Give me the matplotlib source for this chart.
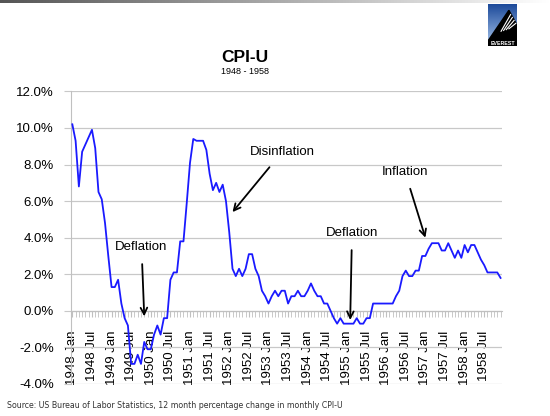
import matplotlib
matplotlib.use("Agg")
import matplotlib.pyplot as plt
import numpy as np
from matplotlib.patches import Rectangle, Polygon

plt.rcParams['font.family'] = ['Liberation Sans', 'DejaVu Sans']

years = list(range(1948, 1959))
month_names = ["Jan", "Feb", "Mar", "Apr", "May", "Jun", "Jul", "Aug", "Sep", "Oct", "Nov", "Dec"]
categories = [f"{y} {m}" for y in years for m in month_names]

cpi_yoy = [
    10.2, 9.3, 6.8, 8.7, 9.1, 9.5, 9.9, 8.9, 6.5, 6.1, 4.8, 3.0,      # 1948
    1.3, 1.3, 1.7, 0.4, -0.4, -0.8, -2.9, -2.9, -2.4, -2.9, -1.7, -2.1,  # 1949
    -2.1, -1.3, -0.8, -1.3, -0.4, -0.4, 1.7, 2.1, 2.1, 3.8, 3.8, 5.9,    # 1950
    8.1, 9.4, 9.3, 9.3, 9.3, 8.8, 7.5, 6.6, 7.0, 6.5, 6.9, 6.0,      # 1951
    4.3, 2.3, 1.9, 2.3, 1.9, 2.3, 3.1, 3.1, 2.3, 1.9, 1.1, 0.8,      # 1952
    0.4, 0.8, 1.1, 0.8, 1.1, 1.1, 0.4, 0.8, 0.8, 1.1, 0.8, 0.8,      # 1953
    1.1, 1.5, 1.1, 0.8, 0.8, 0.4, 0.4, 0.0, -0.4, -0.7, -0.4, -0.7,  # 1954
    -0.7, -0.7, -0.7, -0.4, -0.7, -0.7, -0.4, -0.4, 0.4, 0.4, 0.4, 0.4,  # 1955
    0.4, 0.4, 0.4, 0.8, 1.1, 1.9, 2.2, 1.9, 1.9, 2.2, 2.2, 3.0,      # 1956
    3.0, 3.4, 3.7, 3.7, 3.7, 3.3, 3.3, 3.7, 3.3, 2.9, 3.3, 2.9,      # 1957
    3.6, 3.2, 3.6, 3.6, 3.2, 2.8, 2.5, 2.1, 2.1, 2.1, 2.1, 1.8,      # 1958
]

tick_labels = [c for c in categories if c.endswith("Jan") or c.endswith("Jul")]
y_ticks = [-4, -2, 0, 2, 4, 6, 8, 10, 12]

annotations = [
    ("Deflation", "1949 Nov", -0.3, 141.5, 247),
    ("Disinflation", "1952 Feb", 5.4, 282, 152),
    ("Inflation", "1957 Jan", 4.0, 405, 172),
    ("Deflation", "1955 Feb", -0.5, 352, 233),
]

W, H = 550, 416
fig = plt.figure(figsize=(W / 100, H / 100), dpi=100)
fig.patch.set_facecolor("white")

ax = fig.add_axes([70.7 / W, 32 / H, 431.5 / W, 292.6 / H])
x = np.arange(len(categories))
ax.plot(x, cpi_yoy, color="#1a1aff", lw=1.3, zorder=3)

ax.set_xlim(-0.5, len(categories) - 0.5)
ax.set_ylim(-4, 12)
ax.set_yticks(y_ticks)
ax.set_yticklabels([f"{v:.1f}%" for v in y_ticks], fontsize=9.5)
ax.yaxis.grid(True, color="#c8c8c8", lw=0.9)
ax.set_axisbelow(True)

ax.spines['top'].set_visible(False)
ax.spines['right'].set_visible(False)
ax.spines['left'].set_color("#c0c0c0")
ax.spines['bottom'].set_position(('data', 0))
ax.spines['bottom'].set_color("#c0c0c0")

ax.set_xticks(x, minor=True)
tick_pos = [categories.index(t) for t in tick_labels]
ax.set_xticks(tick_pos)
ax.set_xticklabels(tick_labels, rotation=90, fontsize=9.5, va="top", ha="center")
ax.tick_params(axis='x', which='both', length=4, color="#c0c0c0", pad=10)
ax.tick_params(axis='y', length=5, color="#c8c8c8", pad=7)

for text, cat, yv, tx, ty in annotations:
    xi = categories.index(cat)
    fx, fy = tx / W, 1 - ty / H
    ax.annotate(text, xy=(xi, yv), xycoords="data",
                xytext=(fx, fy), textcoords="figure fraction",
                ha="center", va="center", fontsize=9.5,
                arrowprops=dict(arrowstyle="->,head_length=0.5,head_width=0.25",
                                color="black", lw=1.3, shrinkA=6, shrinkB=0))

fig.text(245 / W, 1 - 57 / H, "CPI-U", ha="center", va="center", fontsize=12.5, fontweight="bold")
fig.text(245 / W, 1 - 72 / H, "1948 - 1958", ha="center", va="center", fontsize=6.5)
fig.text(7 / W, 1 - 405 / H, "Source: US Bureau of Labor Statistics, 12 month percentage change in monthly CPI-U",
         ha="left", va="center", fontsize=6.3, color="#333333",
         family=["Liberation Sans Narrow", "DejaVu Sans"], fontstretch="condensed")

grad = np.linspace(0, 1, 256).reshape(1, -1)
bar_ax = fig.add_axes([0, 1 - 3 / H, 1, 3 / H])
bar_ax.imshow(grad, aspect="auto", cmap=matplotlib.colors.LinearSegmentedColormap.from_list("g", ["#555555", "#ffffff"]))
bar_ax.axis("off")

logo_ax = fig.add_axes([488 / W, 1 - 46 / H, 29 / W, 42 / H])
vg = np.linspace(0, 1, 64).reshape(-1, 1)
logo_ax.imshow(vg, aspect="auto", extent=[0, 1, 0, 1],
               cmap=matplotlib.colors.LinearSegmentedColormap.from_list("b", ["#1d4a9a", "#a8c6ec"]))
logo_ax.add_patch(Polygon([[0, 0.12], [0.72, 0.85], [1, 0.5], [1, 0.12]], closed=True, color="black"))
for k in range(4):
    logo_ax.plot([0.45 + k * 0.09, 0.78 + k * 0.06], [0.35 + k * 0.02, 0.75 - k * 0.07], color="white", lw=0.8)
logo_ax.add_patch(Rectangle((0, 0), 1, 0.14, color="black"))
logo_ax.text(0.5, 0.06, "EVEREST", color="white", fontsize=3.8, ha="center", va="center", fontweight="bold")
logo_ax.set_xlim(0, 1)
logo_ax.set_ylim(0, 1)
logo_ax.axis("off")

fig.savefig("out.png", dpi=100)
